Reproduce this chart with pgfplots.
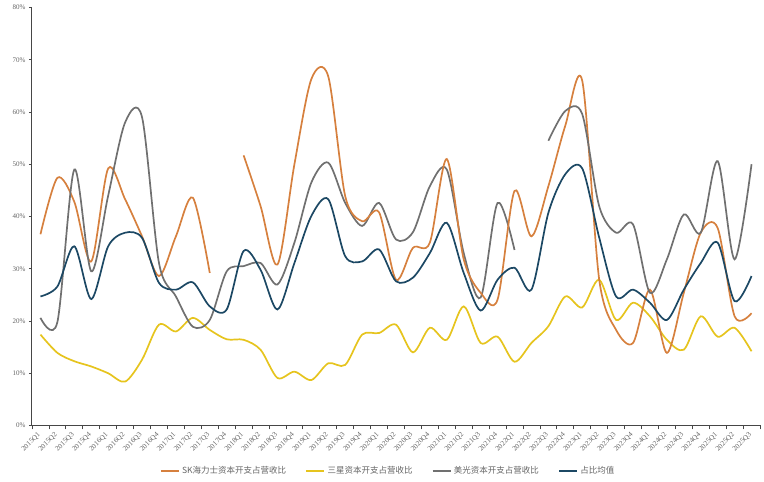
\documentclass[border=0pt]{standalone}
\usepackage{pgfplots}
\pgfplotsset{compat=1.18}
\usepackage{pgfplotstable}
\usepackage{fontspec}
\setmainfont{Liberation Serif}
\newfontfamily\cjk{Noto Sans CJK SC}
\definecolor{skc}{RGB}{214,128,62}
\definecolor{ssc}{RGB}{230,196,30}
\definecolor{muc}{RGB}{112,112,112}
\definecolor{avc}{RGB}{28,72,100}
\definecolor{axc}{RGB}{70,70,70}
\definecolor{txc}{RGB}{100,100,100}
\pgfplotstableread{
i sk ss mu avg
0 36.6 17.4 20.6 24.7
1 47.4 13.9 19.8 26.6
2 42.8 12.3 49.0 34.3
3 31.4 11.3 29.5 24.2
4 49.2 10.0 44.0 34.3
5 43.3 8.4 58.0 36.9
6 36.2 12.6 59.0 35.9
7 28.6 19.3 31.1 27.3
8 36.2 18.0 24.7 26.0
9 43.6 20.6 18.9 27.4
10 29.2 18.3 20.2 22.8
11 nan 16.5 29.5 22.2
12 51.7 16.4 30.5 33.4
13 42.0 14.5 31.1 29.8
14 30.8 9.1 27.0 22.2
15 50.0 10.3 35.0 31.1
16 66.3 8.7 46.5 40.1
17 66.8 11.9 50.3 43.3
18 43.9 11.6 42.6 32.4
19 39.1 17.4 38.2 31.4
20 40.8 17.7 42.6 33.7
21 27.9 19.3 35.6 27.6
22 34.0 14.0 37.0 28.3
23 35.0 18.7 45.8 33.0
24 51.0 16.4 49.0 38.8
25 31.8 22.8 33.0 29.2
26 25.4 15.8 24.5 22.0
27 24.1 17.0 42.6 27.9
28 44.9 12.2 33.6 30.2
29 36.2 15.8 nan 26.0
30 45.8 19.0 54.5 40.7
31 57.4 24.7 60.2 48.1
32 66.0 22.6 59.6 49.2
33 28.0 27.9 42.0 36.0
34 18.3 20.2 36.9 24.7
35 15.8 23.5 38.5 26.0
36 26.0 20.9 25.4 23.5
37 13.9 16.4 31.8 20.2
38 25.4 14.5 40.4 26.0
39 36.9 20.9 36.9 31.1
40 37.8 17.0 50.6 35.0
41 20.9 18.7 31.8 23.8
42 21.5 14.2 50.0 28.6
}\data
\begin{document}
\begin{tikzpicture}
\begin{axis}[
  at={(0pt,0pt)}, anchor=south west,
  scale only axis, width=728pt, height=418pt,
  xmin=-0.5, xmax=42.5, ymin=0, ymax=80,
  axis x line*=bottom, axis y line*=left,
  axis line style={axc, line width=1pt},
  xtick={0,...,42},
  xticklabels={2015Q1,2015Q2,2015Q3,2015Q4,2016Q1,2016Q2,2016Q3,2016Q4,2017Q1,2017Q2,2017Q3,2017Q4,2018Q1,2018Q2,2018Q3,2018Q4,2019Q1,2019Q2,2019Q3,2019Q4,2020Q1,2020Q2,2020Q3,2020Q4,2021Q1,2021Q2,2021Q3,2021Q4,2022Q1,2022Q2,2022Q3,2022Q4,2023Q1,2023Q2,2023Q3,2023Q4,2024Q1,2024Q2,2024Q3,2024Q4,2025Q1,2025Q2,2025Q3},
  major x tick style={draw=none},
  minor xtick={-0.5,0.5,...,42.5},
  minor x tick style={axc, line width=0.8pt},
  minor tick length=4pt,
  xticklabel style={rotate=45, anchor=east, font=\fontsize{7.2}{8}\selectfont, text=txc, xshift=-4pt, yshift=-3pt, inner sep=0.5pt},
  ytick={0,10,...,80},
  yticklabels={0\%,10\%,20\%,30\%,40\%,50\%,60\%,70\%,80\%},
  yticklabel style={font=\fontsize{7}{8}\selectfont, text=txc},
  major y tick style={axc, line width=0.8pt},
  major tick length=3pt,
  tick align=outside,
  every tick/.style={axc},
  legend columns=4,
  legend style={at={(0.489,-0.109)}, anchor=center, draw=none, fill=none,
    font=\cjk\fontsize{8.5}{10}\selectfont, text=txc,
    /tikz/every even column/.append style={column sep=17pt}},
  legend cell align=left,
  legend image code/.code={\draw[#1, line width=2.4pt] (0pt,0pt) -- (18pt,0pt);},
  every axis plot/.append style={line width=1.7pt, smooth, tension=0.5, no markers},
]
\addplot[skc] table[x=i, y=sk, restrict x to domain=0:10] {\data};
\addlegendentry{SK海力士资本开支占营收比}
\addplot[ssc] table[x=i, y=ss] {\data};
\addlegendentry{三星资本开支占营收比}
\addplot[muc] table[x=i, y=mu, restrict x to domain=0:28] {\data};
\addlegendentry{美光资本开支占营收比}
\addplot[skc, forget plot] table[x=i, y=sk, restrict x to domain=12:42] {\data};
\addplot[muc, forget plot] table[x=i, y=mu, restrict x to domain=30:42] {\data};
\addplot[avc] table[x=i, y=avg] {\data};
\addlegendentry{占比均值}
\end{axis}
\path[use as bounding box] (-32pt,-56.5pt) rectangle (732pt,425.5pt);
\end{tikzpicture}
\end{document}
